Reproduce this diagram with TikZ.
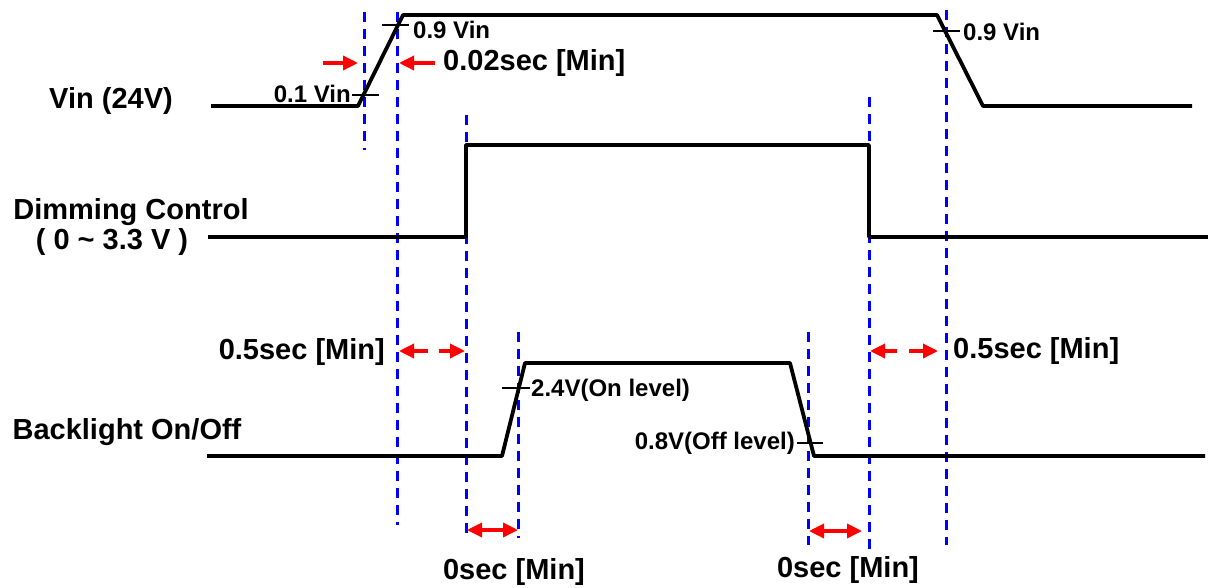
\documentclass[tikz,border=0pt]{standalone}
\usepackage{fontspec}
\setmainfont{Liberation Sans}
\usetikzlibrary{arrows.meta}
\begin{document}
\begin{tikzpicture}[x=1pt,y=-1pt,line join=round,
	sig/.style={line width=3.8pt},
	tick/.style={line width=2pt},
	guide/.style={blue,line width=3pt,dash pattern=on 10pt off 7pt},
	gap/.style={red,line width=3.4pt,-{Triangle[length=15pt,width=14pt]}},
	biglbl/.style={inner sep=0pt,font=\fontsize{29}{31}\selectfont\bfseries},
	smalllbl/.style={inner sep=0pt,font=\fontsize{24}{26}\selectfont\bfseries}]
	\useasboundingbox (0,0) rectangle (1210,587);
	
	% Vin
	\coordinate (V1) at (211,106);
	\coordinate (V2) at (358,106);
	\coordinate (V3) at (403,15);
	\coordinate (V4) at (937,15);
	\coordinate (V5) at (983,106);
	\coordinate (V6) at (1192,106);
	
	% Dimming
	\coordinate (D1) at (208,237);
	\coordinate (D2) at (466,237);
	\coordinate (D3) at (466,145);
	\coordinate (D4) at (869,145);
	\coordinate (D5) at (869,237);
	\coordinate (D6) at (1208,237);
	
	% Backlight
	\coordinate (B1) at (207,456);
	\coordinate (B2) at (502,456);
	\coordinate (B3) at (525,363);
	\coordinate (B4) at (790,363);
	\coordinate (B5) at (814,456);
	\coordinate (B6) at (1205,456);
	
	\draw[guide] (364,12) -- (364,150);
	\draw[guide] (397,12) -- (397,525);
	\draw[guide] (466,115) -- (466,535);
	\draw[guide] (518,332) -- (518,538);
	\draw[guide] (808,332) -- (808,545);
	\draw[guide] (869,97) -- (869,555);
	\draw[guide] (946,10) -- (946,545);
	
	\draw[sig] (V1) -- (V2) -- (V3) -- (V4) -- (V5) -- (V6);
	\draw[sig] (D1) -- (D2) -- (D3) -- (D4) -- (D5) -- (D6);
	\draw[sig] (B1) -- (B2) -- (B3) -- (B4) -- (B5) -- (B6);
	
	\draw[tick] (352,95) -- (379,95);
	\draw[tick] (382,25) -- (409,25);
	\draw[tick] (933,31) -- (960,31);
	\draw[tick] (502,388) -- (530,388);
	\draw[tick] (797,443) -- (823,443);
	
	\node[smalllbl,anchor=east] (lo1) at (351,94) {0.1 Vin};
	\node[smalllbl,anchor=west] (hi1) at (413,30) {0.9 Vin};
	\node[smalllbl,anchor=west] (hi2) at (963,32) {0.9 Vin};
	\node[smalllbl,anchor=west] (onlv) at (531,390) {2.4V(On level)};
	\node[smalllbl,anchor=east] (offlv) at (795,443) {0.8V(Off level)};
	
	\node[biglbl] (vin) at (111,101) {Vin (24V)};
	\node[biglbl] (dim) at (131,212) {Dimming Control};
	\node[biglbl] (dimv) at (112,242) {( 0 \char`\~{} 3.3 V )};
	\node[biglbl] (bl) at (127,432) {Backlight On/Off};
	
	% timing arrows
	\draw[gap] (323,63) -- (358,63);
	\draw[gap] (435,63) -- (399,63);
	\node[biglbl,anchor=west] (t002) at (443,63) {0.02sec [Min]};
	
	\draw[gap] (428,351) -- (399,351);
	\draw[gap] (439,351) -- (465,351);
	\node[biglbl,anchor=east] (t05a) at (385,352) {0.5sec [Min]};
	
	\draw[gap] (897,351) -- (870,351);
	\draw[gap] (909,351) -- (938,351);
	\node[biglbl,anchor=west] (t05b) at (953,351) {0.5sec [Min]};
	
	\draw[gap,{Triangle[length=15pt,width=14pt]}-{Triangle[length=15pt,width=14pt]}] (467,530) -- (518,530);
	\node[biglbl] (t0a) at (514,572) {0sec [Min]};
	
	\draw[gap,{Triangle[length=15pt,width=14pt]}-{Triangle[length=15pt,width=14pt]}] (809,531) -- (862,531);
	\node[biglbl] (t0b) at (848,570) {0sec [Min]};
\end{tikzpicture}
\end{document}
